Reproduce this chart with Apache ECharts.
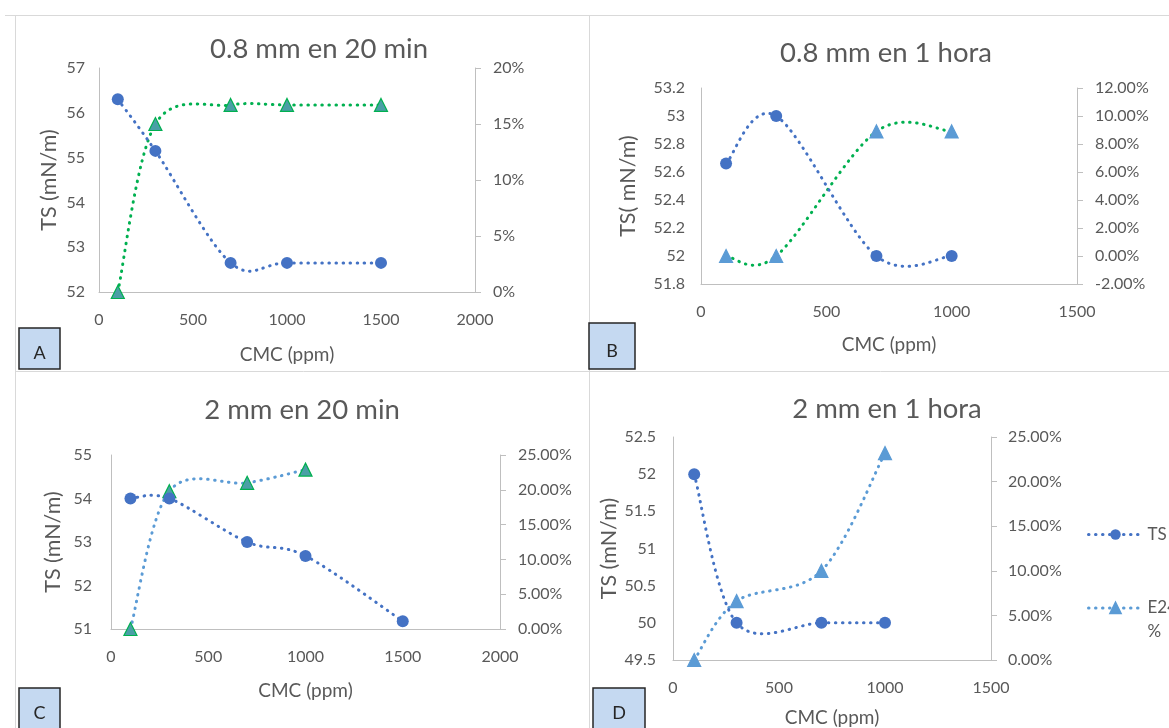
<!DOCTYPE html>
<html><head><meta charset="utf-8">
<script src="https://cdn.jsdelivr.net/npm/echarts@6/dist/echarts.min.js"></script>
<style>html,body{margin:0;padding:0;background:#fff}#c{width:1169px;height:728px}</style>
</head><body><div id="c"></div>
<script>
// ---- data ----
const panelTitles = ['0.8 mm en 20 min', '0.8 mm en 1 hora', '2 mm en 20 min', '2 mm en 1 hora'];
const panelLetters = ['A', 'B', 'C', 'D'];
const yTitles = ['TS (mN/m)', 'TS( mN/m)', 'TS (mN/m)', 'TS (mN/m)'];
const xTitle = 'CMC (ppm)';

const cmcA = [100, 300, 700, 1000, 1500];
const tsA  = [56.3, 55.15, 52.65, 52.65, 52.65];
const e24A = [0, 0.15, 0.167, 0.167, 0.167];

const cmcB = [100, 300, 700, 1000];
const tsB  = [52.66, 53.0, 52.0, 52.0];
const e24B = [0, 0, 0.089, 0.089];

const cmcC = [100, 300, 700, 1000, 1500];
const tsC  = [54.0, 54.0, 53.0, 52.68, 51.18];
const e24C = [0, 0.198, 0.21, 0.229];

const cmcD = [100, 300, 700, 1000];
const tsD  = [52.0, 50.0, 50.0, 50.0];
const e24D = [0, 0.066, 0.10, 0.232];

const xMax   = [2000, 1500, 2000, 1500];
const xStep  = [500, 500, 500, 500];
const tsMin  = [52, 51.8, 51, 49.5];
const tsMax  = [57, 53.2, 55, 52.5];
const tsStep = [1, 0.2, 1, 0.5];
const eMin   = [0, -0.02, 0, 0];
const eMax   = [0.2, 0.12, 0.25, 0.25];
const eStep  = [0.05, 0.02, 0.05, 0.05];
const pctDigits = [0, 2, 2, 2];

const panels = [
  {cmc: cmcA, ts: tsA, e24: e24A},
  {cmc: cmcB, ts: tsB, e24: e24B},
  {cmc: cmcC, ts: tsC, e24: e24C},
  {cmc: cmcD, ts: tsD, e24: e24D}
];

// ---- layout / style ----
const FONT = 'Lato';
const TXT = '#595959';
const AX = '#bfbfbf';
const BLUE = '#4472c4', LBLUE = '#5b9bd5', GREEN = '#00b050', TEAL = '#4a9fa6';
const grids = [
  {left: 99, top: 68, width: 376, height: 224},
  {left: 701, top: 88, width: 376, height: 196},
  {left: 111, top: 455, width: 389, height: 174},
  {left: 673, top: 437, width: 318, height: 223}
];
const titlePos = [[319, 35], [886, 39], [302, 396], [887, 395]];
const yNameGap = [39, 62, 47, 51];
const xNameGap = [53, 51, 52, 48];
const leftLabelMargin = [14, 16, 19, 17];
const rightLabelMargin = [18, 18, 18, 17];
const e24Line = [GREEN, GREEN, LBLUE, LBLUE];
const e24Fill = [TEAL, LBLUE, TEAL, LBLUE];
const e24Border = [GREEN, LBLUE, GREEN, LBLUE];
const letterBoxes = [[19, 328, 41, 41], [589, 323, 46, 46], [19, 688, 41, 41], [593, 688, 52, 41]];

const DASH = [0.5, 6.5];

// Excel-like smoothed curve: each data item draws its outgoing Bezier segment
function smoothCurve(pairs, color) {
  return function (params, api) {
    const k = params.dataIndex;
    if (k >= pairs.length - 1) return null;
    const P = j => api.coord(pairs[Math.max(0, Math.min(pairs.length - 1, j))]);
    const p0 = P(k - 1), p1 = P(k), p2 = P(k + 1), p3 = P(k + 2);
    return {
      type: 'bezierCurve',
      shape: {
        x1: p1[0], y1: p1[1], x2: p2[0], y2: p2[1],
        cpx1: p1[0] + (p2[0] - p0[0]) / 6, cpy1: p1[1] + (p2[1] - p0[1]) / 6,
        cpx2: p2[0] - (p3[0] - p1[0]) / 6, cpy2: p2[1] - (p3[1] - p1[1]) / 6
      },
      style: {stroke: color, fill: null, lineWidth: 3, lineDash: DASH, lineCap: 'round'}
    };
  };
}

const xAxis = [], yAxis = [], series = [], title = [];
panels.forEach((p, i) => {
  title.push({
    text: panelTitles[i], left: titlePos[i][0], top: titlePos[i][1], textAlign: 'center', padding: 0,
    textStyle: {fontFamily: FONT, fontSize: 27.5, fontWeight: 'normal', color: TXT}
  });
  xAxis.push({
    type: 'value', gridIndex: i, min: 0, max: xMax[i], interval: xStep[i],
    name: xTitle, nameLocation: 'middle', nameGap: xNameGap[i],
    nameTextStyle: {fontFamily: FONT, fontSize: 19, color: TXT},
    axisLine: {show: true, onZero: false, lineStyle: {color: AX, width: 1}},
    axisTick: {show: false}, splitLine: {show: false},
    axisLabel: {fontFamily: FONT, fontSize: 16, color: TXT, margin: 20, formatter: v => String(v)}
  });
  yAxis.push({
    type: 'value', gridIndex: i, position: 'left', min: tsMin[i], max: tsMax[i], interval: tsStep[i],
    name: yTitles[i], nameLocation: 'middle', nameGap: yNameGap[i],
    nameTextStyle: {fontFamily: FONT, fontSize: 21.5, color: TXT},
    axisLine: {show: true, onZero: false, lineStyle: {color: AX, width: 1}},
    axisTick: {show: false}, splitLine: {show: false},
    axisLabel: {fontFamily: FONT, fontSize: 16, color: TXT, margin: leftLabelMargin[i]}
  });
  yAxis.push({
    type: 'value', gridIndex: i, position: 'right', min: eMin[i], max: eMax[i], interval: eStep[i],
    axisLine: {show: true, onZero: false, lineStyle: {color: AX, width: 1}},
    axisTick: {show: true, length: 6, lineStyle: {color: AX}}, splitLine: {show: false},
    axisLabel: {fontFamily: FONT, fontSize: 16, color: TXT, margin: rightLabelMargin[i],
      formatter: v => (Math.round(v * 10000) / 100).toFixed(pctDigits[i]) + '%'}
  });
  const tsPairs = p.ts.map((v, k) => [p.cmc[k], v]);
  const ePairs = p.e24.map((v, k) => [p.cmc[k], v]);
  series.push({
    type: 'custom', xAxisIndex: i, yAxisIndex: 2 * i, data: tsPairs,
    renderItem: smoothCurve(tsPairs, BLUE), z: 3, silent: true
  });
  series.push({
    type: 'custom', xAxisIndex: i, yAxisIndex: 2 * i + 1, data: ePairs,
    renderItem: smoothCurve(ePairs, e24Line[i]), z: 2, silent: true
  });
  series.push({
    name: 'TS', type: 'line', xAxisIndex: i, yAxisIndex: 2 * i, data: tsPairs,
    symbol: 'circle', symbolSize: 12,
    itemStyle: {color: BLUE},
    lineStyle: {color: BLUE, width: 3, type: DASH, cap: 'round', opacity: 0}, z: 5
  });
  series.push({
    name: 'E24 %', type: 'line', xAxisIndex: i, yAxisIndex: 2 * i + 1, data: ePairs,
    symbol: 'triangle', symbolSize: 13,
    itemStyle: {color: e24Fill[i], borderColor: e24Border[i], borderWidth: 1.2},
    lineStyle: {color: e24Line[i], width: 3, type: DASH, cap: 'round', opacity: 0}, z: 4
  });
});

const graphic = [
  {type: 'line', shape: {x1: 5, y1: 15.5, x2: 1169, y2: 15.5}, style: {stroke: '#d9d9d9', lineWidth: 1}},
  {type: 'line', shape: {x1: 15.5, y1: 15, x2: 15.5, y2: 728}, style: {stroke: '#d9d9d9', lineWidth: 1}},
  {type: 'line', shape: {x1: 589.5, y1: 15, x2: 589.5, y2: 728}, style: {stroke: '#d9d9d9', lineWidth: 1}},
  {type: 'line', shape: {x1: 15, y1: 371.5, x2: 1169, y2: 371.5}, style: {stroke: '#d9d9d9', lineWidth: 1}}
];
letterBoxes.forEach((b, i) => {
  graphic.push({type: 'rect', shape: {x: b[0], y: b[1], width: b[2], height: b[3]},
    style: {fill: '#c5d9f1', stroke: '#262626', lineWidth: 1.5}, z: 10});
  graphic.push({type: 'text', x: b[0] + b[2] / 2, y: b[1] + b[3] / 2 + 5,
    style: {text: panelLetters[i], fontFamily: FONT, fontSize: 18, fill: '#262626', align: 'center', verticalAlign: 'middle'}, z: 11});
});

const chart = echarts.init(document.getElementById('c'), null, {renderer: 'canvas'});
chart.setOption({
  backgroundColor: '#fff',
  animation: false,
  title: title,
  grid: grids,
  xAxis: xAxis,
  yAxis: yAxis,
  series: series,
  legend: [
    {data: [{name: 'TS', lineStyle: {opacity: 1, width: 3}}],
     orient: 'vertical', left: 1087, top: 526, padding: 0, itemWidth: 54, itemHeight: 13, itemGap: 0,
     textStyle: {fontFamily: FONT, fontSize: 17, color: TXT}},
    {data: [{name: 'E24 %', itemStyle: {color: LBLUE, borderColor: LBLUE}, lineStyle: {color: LBLUE, opacity: 1, width: 3}}],
     orient: 'vertical', left: 1087, top: 572, padding: 0, itemWidth: 54, itemHeight: 13, itemGap: 0,
     formatter: n => '\nE24\n%',
     textStyle: {fontFamily: FONT, fontSize: 17, color: TXT, lineHeight: 24}}
  ],
  graphic: graphic
});
</script></body></html>
